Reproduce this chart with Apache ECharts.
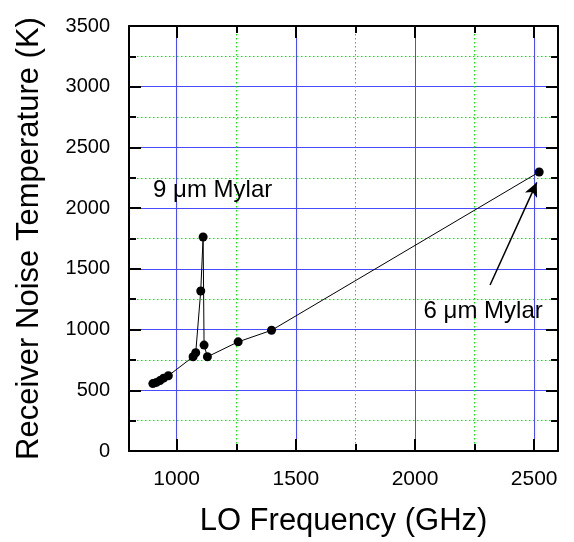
<!DOCTYPE html>
<html>
<head>
<meta charset="utf-8">
<script src="https://cdn.jsdelivr.net/npm/echarts@6/dist/echarts.min.js"></script>
<style>
  html, body { margin: 0; padding: 0; background: #fff; }
  #chart { width: 574px; height: 542px; }
</style>
</head>
<body>
<div id="chart"></div>
<script>
// LO frequency (GHz) and receiver noise temperature (K), in plotted order
const freq = [900, 915, 930, 945, 965, 1069, 1080, 1101, 1111, 1115, 1129, 1258, 1398, 2521];
const tempK = [555, 565, 580, 600, 620, 776, 809, 1318, 1762, 872, 776, 899, 994, 2298];

const xMajor = [1000, 1500, 2000, 2500];
const xMinor = [1250, 1750, 2250];
const yMajor = [0, 500, 1000, 1500, 2000, 2500, 3000, 3500];
const yMinor = [250, 750, 1250, 1750, 2250, 2750, 3250];

const labels9 = { text: '9 \u03bcm Mylar', at: [1151, 2150] };
const labels6 = { text: '6 \u03bcm Mylar', at: [2286, 1152] };
const arrow6 = [[2315, 1367], [2511, 2212]];

const font = '"Liberation Sans", Arial, Helvetica, sans-serif';
const blue = '#4a4aff';
const green = '#00e800';
const plain = (v) => String(v);
const frame = () => ({ onZero: false, show: true, lineStyle: { color: '#000', width: 2 } });

const chart = echarts.init(document.getElementById('chart'));

// helper axes: same range, only ticks (+ optional grid lines)
const xBase = {
  type: 'value', min: 800, max: 2600,
  axisLine: { onZero: false, show: false },
  axisLabel: { show: false },
  splitLine: { show: false },
};
const yBase = {
  type: 'value', min: 0, max: 3500,
  axisLine: { onZero: false, show: false },
  axisLabel: { show: false },
  splitLine: { show: false },
};
const tick = (values, length) => ({
  inside: true, length, customValues: values, lineStyle: { color: '#000', width: 2 },
});

chart.setOption({
  animation: false,
  backgroundColor: '#fff',
  grid: { left: 129, right: 16, top: 26, bottom: 88 },
  xAxis: [
    {
      ...xBase,
      position: 'bottom',
      name: 'LO Frequency (GHz)',
      nameLocation: 'middle',
      nameGap: 55,
      nameTextStyle: { fontFamily: font, fontSize: 31, color: '#000' },
      axisLine: frame(),
      axisTick: tick(xMajor, 12),
      axisLabel: { show: true, customValues: xMajor, margin: 18, fontFamily: font, fontSize: 21, color: '#000', formatter: plain },
      splitLine: { show: true, lineStyle: { color: blue, width: 1 } },
    },
    {
      ...xBase,
      position: 'bottom',
      axisTick: tick(xMinor, 7),
      splitLine: { show: true, lineStyle: { color: green, width: 1, type: [1.5, 2.5] } },
    },
    { ...xBase, position: 'top', axisLine: frame(), axisTick: tick(xMajor, 12) },
    { ...xBase, position: 'top', axisTick: tick(xMinor, 7) },
  ],
  yAxis: [
    {
      ...yBase,
      position: 'left',
      name: 'Receiver Noise Temperature (K)',
      nameLocation: 'middle',
      nameGap: 84,
      nameTextStyle: { fontFamily: font, fontSize: 31, color: '#000' },
      axisLine: frame(),
      axisTick: tick(yMajor, 12),
      axisLabel: { show: true, customValues: yMajor, margin: 19, fontFamily: font, fontSize: 20, color: '#000', formatter: plain },
      splitLine: { show: true, lineStyle: { color: blue, width: 1 } },
    },
    {
      ...yBase,
      position: 'left',
      axisTick: tick(yMinor, 7),
      splitLine: { show: true, lineStyle: { color: green, width: 1, type: [1.5, 2.5] } },
    },
    { ...yBase, position: 'right', axisLine: frame(), axisTick: tick(yMajor, 12) },
    { ...yBase, position: 'right', axisTick: tick(yMinor, 7) },
  ],
  series: [
    {
      type: 'line',
      xAxisIndex: 0,
      yAxisIndex: 0,
      data: freq.map((f, i) => [f, tempK[i]]),
      symbol: 'circle',
      symbolSize: 9,
      itemStyle: { color: '#000' },
      lineStyle: { color: '#000', width: 1 },
      z: 5,
      markPoint: {
        symbol: 'circle',
        symbolSize: 0,
        label: { show: true, fontFamily: font, fontSize: 24, color: '#000', formatter: (p) => p.name },
        data: [
          { name: labels9.text, coord: labels9.at },
          { name: labels6.text, coord: labels6.at },
        ],
      },
      markLine: {
        silent: true,
        symbol: ['none', 'arrow'],
        symbolSize: [10, 14],
        label: { show: false },
        lineStyle: { color: '#000', width: 1.5, type: 'solid' },
        data: [[{ coord: arrow6[0] }, { coord: arrow6[1] }]],
      },
    },
  ],
});
</script>
</body>
</html>
